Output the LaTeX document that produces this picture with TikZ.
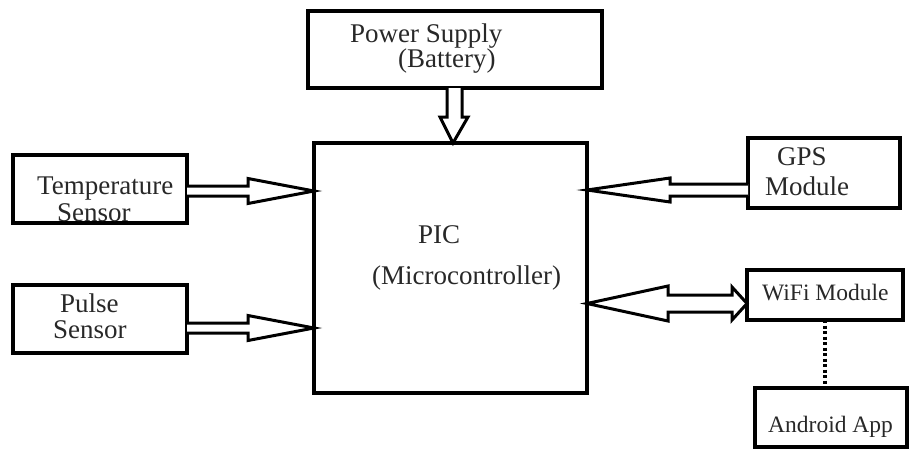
\documentclass[tikz,border=0pt]{standalone}
\usepackage{fontspec}
\setmainfont{Liberation Serif}
\definecolor{txt}{RGB}{40,40,40}
\begin{document}
\begin{tikzpicture}[x=1pt,y=-1pt,
  box/.style={draw,line width=3.6pt,inner sep=0pt,outer sep=0pt},
  lbl/.style={inner sep=0pt,anchor=base west,text=txt,font=\fontsize{27}{30}\selectfont},
  slbl/.style={inner sep=0pt,anchor=base west,text=txt,font=\fontsize{23.5}{26}\selectfont},
  blk/.style={draw,line width=3pt,line join=miter,fill=white},
  link/.style={draw,line width=3.2pt,dash pattern=on 3pt off 2.5pt}]
\useasboundingbox (0,0) rectangle (909,450);
% boxes
\node[box,minimum width=294pt,minimum height=77pt] (power) at (455,49.5) {};
\node[box,minimum width=273pt,minimum height=250pt] (pic) at (450.5,268) {};
\node[box,minimum width=174pt,minimum height=68pt] (temp) at (100,189) {};
\node[box,minimum width=174pt,minimum height=68pt] (pulse) at (100,319) {};
\node[box,minimum width=152pt,minimum height=70pt] (gps) at (824,173) {};
\node[box,minimum width=156pt,minimum height=50pt] (wifi) at (825,295) {};
\node[box,minimum width=152pt,minimum height=59pt] (android) at (831,417.5) {};
% labels
\node[lbl] (tpow) at (350,42) {Power Supply};
\node[lbl] (tbat) at (398,67) {(Battery)};
\node[lbl] (tpic) at (418,243) {PIC};
\node[lbl] (tmc) at (372,284) {(Microcontroller)};
\node[lbl] (ttemp) at (37,194) {Temperature};
\node[lbl] (tts) at (57,221) {Sensor};
\node[lbl] (tpul) at (60,312) {Pulse};
\node[lbl] (tps) at (53,338) {Sensor};
\node[lbl] (tgps) at (777,165) {GPS};
\node[lbl] (tgm) at (765,195) {Module};
\node[slbl] (twifi) at (762,300) {WiFi Module};
\node[slbl] (tand) at (768,432) {Android App};
% block arrows
\draw[blk] (power.south -| 447,0) -- (447,117) -- (440,117) -- (pic.north -| 453,0)
  -- (468,117) -- (462,117) -- (power.south -| 462,0);
\draw[blk] (temp.east |- 0,186) -- (248,186) -- (248,178.5) -- (pic.west |- 0,191)
  -- (248,203.5) -- (248,196) -- (temp.east |- 0,196);
\draw[blk] (pulse.east |- 0,323) -- (248,323) -- (248,315.5) -- (pic.west |- 0,328)
  -- (248,340.5) -- (248,333) -- (pulse.east |- 0,333);
\draw[blk] (gps.west |- 0,184) -- (670,184) -- (670,178) -- (pic.east |- 0,190)
  -- (670,202) -- (670,196) -- (gps.west |- 0,196);
\draw[blk] (pic.east |- 0,303.5) -- (668,286) -- (668,295) -- (732,295) -- (732,287)
  -- (wifi.west |- 0,303.5) -- (732,320) -- (732,312) -- (668,312) -- (668,321) -- cycle;
% dotted link
\draw[link] (wifi.south) -- (wifi.south |- android.north);
\end{tikzpicture}
\end{document}
